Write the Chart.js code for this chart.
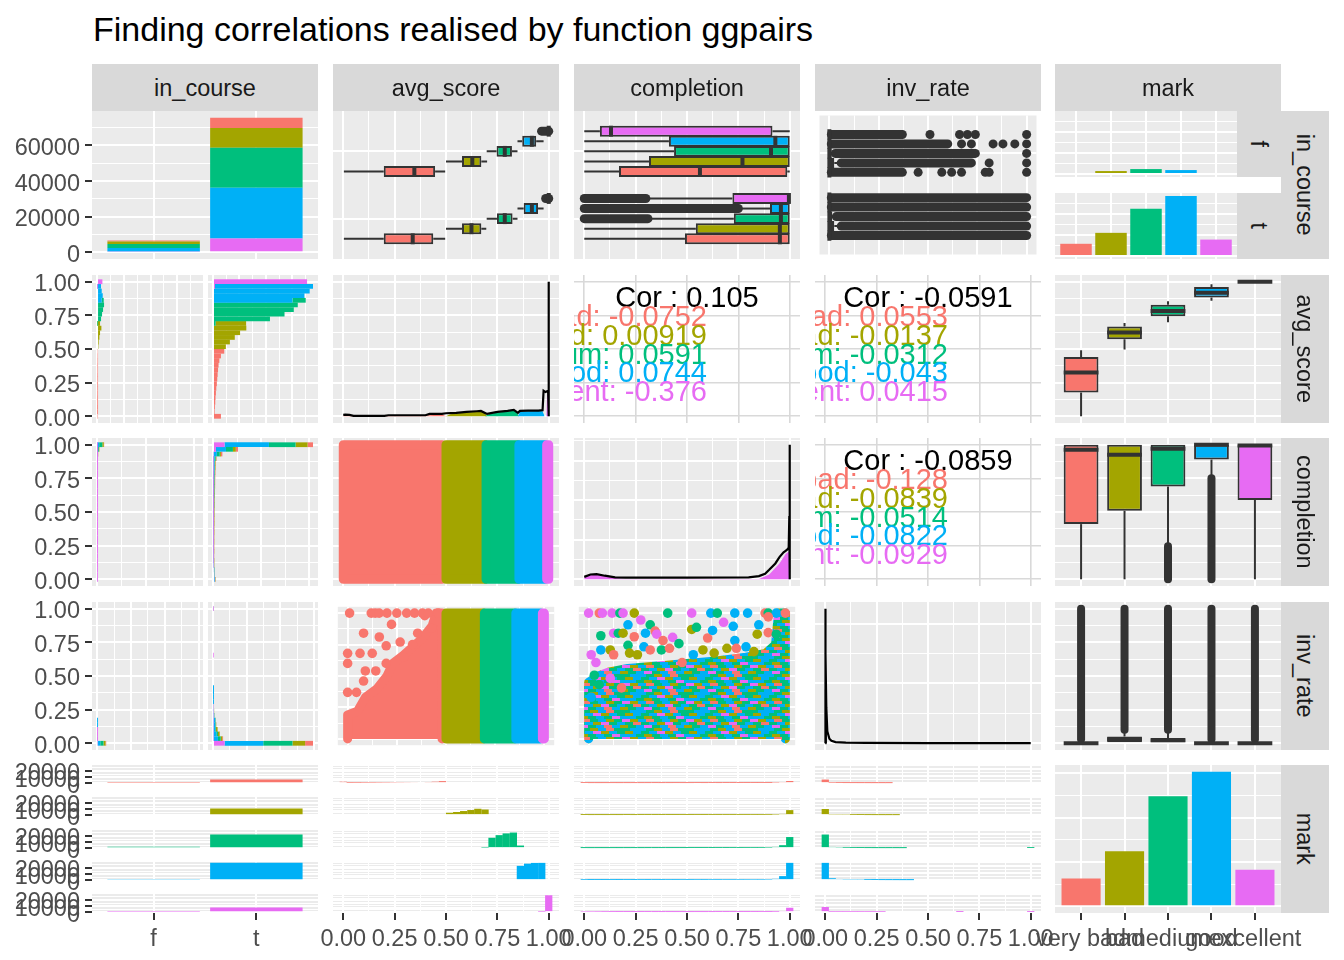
<!DOCTYPE html>
<html lang="en">
<head>
<meta charset="utf-8">
<title>ggpairs</title>
<script src="https://cdn.jsdelivr.net/npm/chart.js@4.4.1/dist/chart.umd.min.js"></script>
<style>
  html,body{margin:0;padding:0;background:#FFFFFF;}
  body{position:relative;width:1344px;height:960px;overflow:hidden;font-family:"Liberation Sans",Arial,Helvetica,sans-serif;}
  canvas{position:absolute;}
  #title{position:absolute;left:93px;top:12px;font-size:34px;line-height:1;color:#000;white-space:nowrap;}
  .strip{position:absolute;box-sizing:border-box;background:#D9D9D9;color:#1A1A1A;font-size:23.5px;line-height:1;display:flex;align-items:center;justify-content:center;white-space:nowrap;overflow:hidden;}
  .strip.h{padding-top:3px;}
  .strip.v{padding-right:2px;}
  .strip.v span{display:inline-block;transform:rotate(90deg);}
  .cor{position:absolute;overflow:hidden;}
  .cor div{position:absolute;white-space:nowrap;font-size:29px;line-height:1;}
</style>
</head>
<body>
<div id="title"></div>
<script>
// ================= DATA =================
const chartTitle = 'Finding correlations realised by function ggpairs';
const marks = ['very bad', 'bad', 'medium', 'good', 'excellent'];
const inCourseLevels = ['f', 't'];
const variables = ['in_course', 'avg_score', 'completion', 'inv_rate', 'mark'];

const countTicks = [0, 20000, 40000, 60000];
const countTickLabels = ['0', '20000', '40000', '60000'];
const facetCountTicks = [0, 10000, 20000];
const facetCountTickLabels = ['0', '10000', '20000'];
const unitTicks = [0, 0.25, 0.5, 0.75, 1];
const unitTickLabels = ['0.00', '0.25', '0.50', '0.75', '1.00'];
const unitMinorTicks = [0.125, 0.375, 0.625, 0.875];

// students by in_course and mark
const studentsF = [470, 1400, 2340, 1870, 470];
const studentsT = [5800, 11000, 22500, 28500, 7800];

// histogram bin centres (30 bins)
const binCentres = [0,0.034,0.069,0.103,0.138,0.172,0.207,0.241,0.276,0.31,0.345,0.379,0.414,0.448,0.483,0.517,0.552,0.586,0.621,0.655,0.69,0.724,0.759,0.793,0.828,0.862,0.897,0.931,0.966,1];

// avg_score histogram counts (in_course t / f)
const avgT_veryBad   = [600,120,140,170,190,220,250,290,320,350,380,420,480,600,850,0,0,0,0,0,0,0,0,0,0,0,0,0,0,0];
const avgT_bad       = [0,0,0,0,0,0,0,0,0,0,0,0,0,0,0,970,1275,1645,2045,2515,2300,0,0,0,0,0,0,0,0,0];
const avgT_medium    = [0,0,0,0,0,0,0,0,0,0,0,0,0,0,0,0,0,0,0,0,200,4300,5400,6100,6400,1000,0,0,0,0];
const avgT_good      = [0,0,0,0,0,0,0,0,0,0,0,0,0,0,0,0,0,0,0,0,0,0,0,0,0,6000,6900,7300,7400,0];
const avgT_excellent = [0,0,0,0,0,0,0,0,0,0,0,0,0,0,0,0,0,0,0,0,0,0,0,0,0,0,0,0,150,7100];
const avgF_veryBad   = [40,10,10,15,15,20,20,20,25,25,30,30,35,40,50,0,0,0,0,0,0,0,0,0,0,0,0,0,0,0];
const avgF_bad       = [0,0,0,0,0,0,0,0,0,0,0,0,0,0,0,100,125,175,225,325,200,0,0,0,0,0,0,0,0,0];
const avgF_medium    = [0,0,0,0,0,0,0,0,0,0,0,0,0,0,0,0,0,0,0,0,25,300,375,450,525,150,0,0,0,0];
const avgF_good      = [0,0,0,0,0,0,0,0,0,0,0,0,0,0,0,0,0,0,0,0,0,0,0,0,0,350,425,350,275,0];
const avgF_excellent = [0,0,0,0,0,0,0,0,0,0,0,0,0,0,0,0,0,0,0,0,0,0,0,0,0,0,0,0,20,400];

// completion histogram counts
const compT_veryBad   = [160,60,50,60,70,60,70,80,70,80,90,80,90,100,90,100,110,100,120,110,120,130,120,140,150,160,150,600,900,2250];
const compT_bad       = [120,80,90,80,100,90,110,100,120,110,130,120,140,130,150,140,160,150,170,160,180,170,190,180,200,210,250,500,1200,5000];
const compT_medium    = [60,30,40,30,50,40,50,60,50,70,60,80,70,90,80,110,100,130,120,150,140,170,160,190,200,220,450,1200,2900,11100];
const compT_good      = [300,150,180,160,200,170,210,190,230,200,240,220,260,240,280,260,300,280,320,300,340,320,360,380,420,400,500,1300,4200,18500];
const compT_excellent = [500,450,380,260,180,150,130,120,110,110,100,100,100,90,90,90,100,90,100,110,110,120,130,140,160,180,150,300,1200,4800];
const compF_veryBad   = [10,0,0,0,10,0,0,10,0,0,10,0,0,10,0,0,10,0,10,0,10,0,10,0,10,10,10,30,60,150];
const compF_bad       = [20,10,10,10,10,10,10,10,20,10,10,20,10,10,20,10,20,10,20,20,20,20,20,30,30,30,40,80,200,600];
const compF_medium    = [20,10,10,10,10,10,10,20,10,10,20,10,20,10,20,20,20,30,20,30,30,30,40,40,50,60,80,200,400,1300];
const compF_good      = [30,20,10,20,10,20,20,10,20,20,20,20,20,20,30,20,30,20,30,30,30,40,40,50,50,60,80,150,300,800];
const compF_excellent = [60,50,40,30,20,10,10,10,10,10,10,10,10,10,10,10,10,10,10,10,10,10,10,10,10,10,10,20,40,80];

// inv_rate histogram counts
const invT_veryBad   = [4700,500,250,120,80,50,30,20,10,10,0,0,0,0,0,0,0,0,0,0,0,0,0,0,0,0,0,0,0,0];
const invT_bad       = [7500,950,950,950,300,150,100,60,40,30,20,0,0,0,0,0,0,0,0,0,0,0,0,0,0,0,0,0,0,0];
const invT_medium    = [17400,1600,950,400,250,150,100,60,40,30,20,10,0,0,0,0,0,0,0,0,0,0,0,0,0,0,0,0,0,150];
const invT_good      = [23000,2550,1600,950,950,950,300,150,100,60,40,20,10,0,0,0,0,0,0,0,0,0,0,0,0,0,0,0,0,0];
const invT_excellent = [6900,400,400,400,400,400,400,400,400,0,0,0,0,0,0,0,0,0,0,200,0,0,0,0,0,0,0,0,0,200];
const invF_veryBad   = [400,20,10,0,0,0,0,0,0,0,0,0,0,0,0,0,0,0,0,0,0,0,0,0,0,0,0,0,0,0];
const invF_bad       = [1200,60,30,20,0,0,0,0,0,0,0,0,0,0,0,0,0,0,0,0,0,0,0,0,0,0,0,0,0,0];
const invF_medium    = [1900,120,60,30,10,0,0,0,0,0,0,0,0,0,0,0,0,0,0,0,0,0,0,0,0,0,0,0,0,0];
const invF_good      = [1500,120,60,30,20,10,0,0,0,0,0,0,0,0,0,0,0,0,0,0,0,0,0,0,0,0,0,0,0,0];
const invF_excellent = [400,30,20,10,0,0,0,0,0,0,0,0,0,0,0,0,0,0,0,0,0,0,0,0,0,0,0,0,0,0];

// densities (diagonal)
const avgDensX = [0,0.01,0.03,0.05,0.2,0.22,0.4,0.42,0.48,0.5,0.55,0.6,0.65,0.67,0.69,0.7,0.75,0.8,0.83,0.85,0.86,0.9,0.95,0.97,0.975,0.985,0.99,0.997,1,1];
const avgDensY = [0.4,0.5,0.4,0.1,0.1,0.3,0.3,0.7,0.7,0.9,1.0,1.3,1.5,1.6,1.0,0.7,1.3,1.6,1.9,1.0,1.6,1.7,1.7,1.8,7.6,7.2,7.4,7.6,40,0];
const avgFillVeryBadX = [0,0.05,0.2,0.4,0.48,0.5];
const avgFillVeryBadY = [0.3,0.3,0.1,0.25,0.5,0];
const avgFillBadX = [0.5,0.52,0.56,0.6,0.64,0.67,0.69,0.7];
const avgFillBadY = [0,0.6,0.9,1.1,1.3,1.5,0.9,0];
const avgFillMediumX = [0.69,0.71,0.75,0.8,0.83,0.845,0.855];
const avgFillMediumY = [0,0.7,1.1,1.4,1.7,1.2,0];
const avgFillGoodX = [0.85,0.86,0.9,0.95,0.97,0.98];
const avgFillGoodY = [0,1.3,1.5,1.6,1.5,0];
const avgFillExcX = [0.988,0.992,0.996,1,1];
const avgFillExcY = [0,6.4,6.6,6.6,0];

const compDensX = [0,0.03,0.06,0.1,0.15,0.2,0.5,0.8,0.85,0.88,0.9,0.93,0.95,0.97,0.98,0.99,0.995,0.998,1,1];
const compDensY = [0.3,0.6,0.65,0.45,0.25,0.2,0.2,0.25,0.4,0.7,1.2,2.0,2.8,3.4,3.6,3.8,4.0,8.0,17,0];
const compFillExcX = [0,0.03,0.06,0.1,0.15,0.2,0.85,0.9,0.95,0.98,1,1];
const compFillExcY = [0.3,0.6,0.65,0.45,0.15,0.05,0.05,0.6,2.0,3.2,3.6,0];
const compFillGoodX = [0.994,0.996,0.999,0.999];
const compFillGoodY = [0,7.7,7.7,0];

const invDensX = [0,0,0.002,0.005,0.01,0.02,0.03,0.05,0.1,0.2,0.5,1];
const invDensY = [0,45,30,12,4,1.5,0.8,0.4,0.2,0.1,0.05,0.05];
const invDens2X = [0.003,0.003];
const invDens2Y = [0,18];

// correlations
const corAvgCompletion = 0.105;
const corAvgCompletionByMark = [-0.0752, 0.00919, 0.0591, 0.0744, -0.376];
const corAvgInv = -0.0591;
const corAvgInvByMark = [0.0553, -0.0137, -0.0312, -0.043, 0.0415];
const corCompletionInv = -0.0859;
const corCompletionInvByMark = [-0.128, -0.0839, -0.0514, -0.0822, -0.0929];

// boxplot summaries: [lower whisker, q1, median, q3, upper whisker] per mark
const avgBoxF = [[0.003,0.197,0.346,0.447,0.496],[0.5,0.578,0.628,0.672,0.7],[0.698,0.746,0.786,0.821,0.848],[0.848,0.871,0.918,0.939,0.975],[1,1,1,1,1]];
const avgBoxT = [[0.003,0.197,0.338,0.438,0.496],[0.5,0.578,0.624,0.672,0.696],[0.698,0.748,0.786,0.824,0.848],[0.848,0.878,0.918,0.948,0.975],[1,1,1,1,1]];
const avgOutF = [[4,0.965,1]];          // [mark, from, to] dense outlier runs
const avgOutT = [[4,0.985,1]];
const compBoxF = [[0,0.169,0.563,0.988,1],[0,0.315,0.77,1,1],[0,0.437,0.909,1,1],[0,0.412,0.93,1,1],[0,0.076,0.13,0.916,1]];
const compBoxT = [[0,0.49,0.952,1,1],[0,0.543,0.952,1,1],[0.32,0.728,0.957,1,1],[0.758,0.904,0.957,1,1],[0.307,0.721,0.996,1,1]];
const compOutT = [[2,0,0.31],[3,0,0.75],[4,0,0.3]];
const invBoxF = [[0,0,0,0,0.01],[0,0,0,0.025,0.06],[0,0,0,0.012,0.03],[0,0,0,0,0.01],[0,0,0,0,0.01]];
const invBoxT = [[0,0,0,0,0.01],[0,0,0,0.025,0.06],[0,0,0,0.015,0.035],[0,0,0,0,0.01],[0,0,0,0,0.01]];
const invOutF = [[0,0.01,0.37],[1,0.06,0.72],[2,0.03,0.74],[3,0.01,0.6],[4,0.01,0.37]];
const invOutDotsF = [[0,0.45],[0,0.57],[0,0.62],[0,0.67],[0,0.79],[0,0.81],[0,1],[1,0.81],[1,1],[2,1],[3,0.67],[3,0.72],[3,0.83],[3,0.88],[3,0.94],[3,1],[4,0.51],[4,0.66],[4,0.7],[4,0.74],[4,1]];
const invOutT = [[0,0.01,1],[1,0.06,1],[2,0.035,1],[3,0.01,1],[4,0.01,1]];
const avgByMark = [[0,0.176,0.325,0.44,0.49],[0.496,0.572,0.622,0.667,0.693],[0.698,0.743,0.783,0.829,0.854],[0.859,0.882,0.919,0.96,0.982],[0.995,0.997,1,1,1]];
const compByMark = [[0,0.41,0.963,1,1],[0,0.51,0.925,1,1],[0.25,0.69,0.97,1,1],[0.76,0.89,1,1,1],[0,0.59,0.995,1,1]];
const compByMarkOut = [[2,0,0.245],[3,0,0.75]];
const invByMark = [[0,0,0,0,0.01],[0,0,0.03,0.05,0.085],[0,0,0.022,0.04,0.08],[0,0,0,0,0.01],[0,0,0,0,0.01]];
const invByMarkOut = [[0,0.03,1],[1,0.1,1],[2,0.1,1],[3,0.03,1],[4,0.03,1]];

// scatter: avg_score ranges covered by each mark
const bandFrom = [0, 0.5, 0.695, 0.855, 0.99];
const bandTo = [0.48, 0.69, 0.85, 0.98, 1.0];
// avg_score vs inv_rate, very bad: dense region outline and sparse points
const redDenseAvg = [0,0,0.05,0.09,0.15,0.2,0.23,0.28,0.33,0.38,0.43,0.45,0.48,0.48];
const redDenseInv = [0,0.19,0.22,0.33,0.4,0.5,0.6,0.66,0.73,0.8,0.9,1,1,0];
const redSparseAvg = [0.01,0.081,0.161,0.223,0.356,0.427,0,0,0.063,0.125,0.196,0.267,0.33,0.09,0.143,0,0.045,0.081,0.196,0.285,0.392,0.12,0.14,0.16,0.2,0.25,0.3,0.34,0.38,0.41,0.46];
const redSparseInv = [1,0.84,0.81,0.91,0.84,0.88,0.68,0.6,0.68,0.68,0.74,0.77,0.75,0.54,0.54,0.37,0.37,0.46,0.6,0.65,0.98,1,1,1,1,1,1,1,1,1,1];
// completion vs inv_rate: dense region outline and sparse points
const dense43Completion = [0,0,0.05,0.1,0.2,0.35,0.5,0.65,0.8,0.9,0.95,0.965,1,1];
const dense43Inv = [0,0.45,0.5,0.53,0.56,0.58,0.6,0.62,0.65,0.68,0.75,1,1,0];
const p43Completion = [0,0.054,0.07,0.119,0.159,0.175,0.232,0.402,0.524,0.621,0.654,0.743,0.808,0.897,0.913,0.954,1,
  0.265,0.2,0.313,0.062,0.127,0.151,0.175,0.232,0.289,0.338,0.346,0.378,0.427,0.459,0.524,0.548,0.605,0.63,0.686,0.735,0.743,0.703,0.751,0.8,0.84,0.857,0.865,0.913,0.954,0.913,
  0.013,0.037,0.062,0.11,0.127,0.2,0.208,0.248,0.281,0.313,0.37,0.411,0.475,0.532,0.581,0.638,0.029,0.054,0.013,0.167,0.11];
const p43Inv = [1,1,1,1,1,1,1,1,1,1,1,1,1,1,1,1,1,
  0.945,0.907,0.907,0.82,0.84,0.84,0.84,0.812,0.84,0.857,0.832,0.782,0.807,0.757,0.87,0.887,0.802,0.862,0.927,0.895,0.782,0.72,0.72,0.732,0.694,0.832,0.907,0.845,0.832,0.97,
  0.669,0.607,0.707,0.707,0.669,0.744,0.682,0.669,0.732,0.707,0.707,0.72,0.607,0.669,0.707,0.682,0.506,0.431,0.331,0.406,0.481];
const p43Mark = [4,0,4,4,2,4,1,2,4,3,2,3,3,0,2,3,0,
  4,3,2,2,4,2,1,0,3,0,4,0,4,2,1,2,0,3,4,3,3,1,0,3,1,1,3,0,2,0,
  4,4,3,1,0,2,1,1,3,0,2,0,0,3,1,1,2,2,3,0,4];

// ================= STYLE / HELPERS =================
const FONT = '"Liberation Sans", Arial, Helvetica, sans-serif';
const COLORS = ['#F8766D', '#A3A500', '#00BF7D', '#00B0F6', '#E76BF3'];
const INK = '#333333';
const colL = [92, 333, 574, 815, 1055];
const rowT = [111, 275, 438, 602, 765];
const PW = 226, PH = 148;
const facetH = 19;
const facetTops = [765, 797, 830, 862, 894];
const GRID = {color: '#FFFFFF', majorW: 2, minorW: 1, minor: true};
const CORGRID = {color: '#D9D9D9', majorW: 1.6, minorW: 0, minor: false};
// colour-index tile for the over-plotted region (style only)
const tileCells = [3,2,1,3,0,2,2,3, 2,3,4,1,3,2,1,3, 1,2,3,2,4,3,3,2, 3,0,2,3,1,2,4,1, 2,3,1,4,2,3,2,0, 4,2,3,0,3,1,2,3];

Chart.defaults.font.family = FONT;
Chart.register({
  id: 'panelBg',
  beforeDraw(chart, args, opts) {
    const a = chart.chartArea, c = chart.ctx;
    c.save(); c.fillStyle = opts.color || '#EBEBEB';
    c.fillRect(a.left, a.top, a.right - a.left, a.bottom - a.top);
    c.restore();
  }
});

function niceStep(maxv) {
  const p = Math.pow(10, Math.floor(Math.log10(maxv)));
  for (const f of [0.1, 0.2, 0.25, 0.5, 1, 2, 2.5, 5, 10]) { if (maxv / (f * p) <= 4) return f * p; }
  return 10 * p;
}
function countSpec(maxv, ticks, labels) {
  const min = -0.05 * maxv, max = 1.05 * maxv;
  let majors, st;
  if (ticks) { majors = ticks.slice(); st = ticks[1] - ticks[0]; }
  else { st = niceStep(maxv); majors = []; for (let v = 0; v <= max + 1e-9; v += st) majors.push(+v.toFixed(6)); }
  const minors = [];
  majors.forEach(v => { const m = v + st / 2; if (m <= max) minors.push(m); });
  return {min, max, majors, minors, labels};
}
function unitSpec() { return {min: -0.05, max: 1.05, majors: unitTicks, minors: unitMinorTicks, labels: unitTickLabels}; }
function discSpec(n, labels) { const t = []; for (let i = 1; i <= n; i++) t.push(i); return {min: 0.4, max: n + 0.6, majors: t, minors: [], labels}; }

function scaleOpts(s, show, size, g, stacked, vertical) {
  const list = s.majors.map((v, i) => ({value: v, major: true, lbl: s.labels ? s.labels[i] : ''}))
    .concat((g.minor ? s.minors : []).map(v => ({value: v, major: false, lbl: ''})))
    .sort((a, b) => a.value - b.value);
  return {
    type: 'linear', min: s.min, max: s.max, bounds: 'data', offset: false, beginAtZero: false, stacked: stacked,
    afterBuildTicks: sc => { sc.ticks = list.map(t => Object.assign({}, t)); },
    afterFit: sc => {
      if (sc.isHorizontal()) sc.height = size; else sc.width = size;
      sc.paddingTop = 0; sc.paddingBottom = 0; sc.paddingLeft = 0; sc.paddingRight = 0;
    },
    ticks: {
      display: show, autoSkip: false, maxRotation: 0, minRotation: 0, padding: 5, color: '#4D4D4D',
      labelOffset: vertical ? 3 : 0,
      font: {family: FONT, size: 23.5},
      callback: (v, i, t) => (t[i] && t[i].major) ? t[i].lbl : ''
    },
    grid: {
      offset: false, drawOnChartArea: true, drawTicks: show, tickLength: 7, tickWidth: 2,
      tickColor: c => (c.tick && c.tick.major) ? INK : 'rgba(0,0,0,0)',
      color: g.color,
      lineWidth: c => (c.tick && !c.tick.major) ? g.minorW : g.majorW
    },
    border: {display: false}
  };
}

function makePanel(rect, o) {
  const left = !!o.left, bottom = !!o.bottom;
  const axL = left ? rect.l : 0;
  const axB = bottom ? 960 - (rect.t + rect.h) : 0;
  const exL = (bottom && !left) ? 40 : 0;
  const exR = bottom ? 40 : 0;
  const exT = left ? 14 : 0;
  const exB = (left && !bottom) ? 14 : 0;
  const W = Math.round(rect.w + axL + exL + exR), H = Math.round(rect.h + exT + axB + exB);
  const cv = document.createElement('canvas');
  cv.width = W; cv.height = H;
  cv.style.left = (rect.l - axL - exL) + 'px';
  cv.style.top = (rect.t - exT) + 'px';
  cv.style.width = W + 'px'; cv.style.height = H + 'px';
  document.body.appendChild(cv);
  const g = o.grid || GRID;
  return new Chart(cv, {
    type: 'scatter',
    data: {datasets: o.datasets || []},
    options: {
      responsive: false, maintainAspectRatio: false, animation: false, events: [],
      layout: {padding: {left: exL, right: exR, top: exT, bottom: exB}},
      plugins: {legend: {display: false}, tooltip: {enabled: false}, title: {display: false}, panelBg: {color: o.bg || '#EBEBEB'}},
      scales: {x: scaleOpts(o.x, bottom, axB, g, !!o.stacked, false), y: scaleOpts(o.y, left, axL, g, !!o.stacked, true)}
    }
  });
}
function rectOf(r, c) { return {l: colL[c], t: rowT[r], w: PW, h: PH}; }
function pts(xs, ys) { return xs.map((x, i) => ({x: x, y: ys[i]})); }
function lineDS(data, color, width, extra) {
  return Object.assign({type: 'line', data: data, borderColor: color, borderWidth: width, pointRadius: 0, fill: false, tension: 0, spanGaps: false, clip: 0, borderCapStyle: 'butt'}, extra || {});
}
function areaDS(data, color) { return {type: 'line', data: data, borderWidth: 0, borderColor: color, backgroundColor: color, pointRadius: 0, fill: {value: 0}, tension: 0, clip: 0}; }
function polyDS(data, color, edge) { return {type: 'line', data: data, borderColor: color, backgroundColor: color, borderWidth: edge, borderJoinStyle: 'round', borderCapStyle: 'round', pointRadius: 0, fill: 'shape', tension: 0, clip: 0}; }
function dotsDS(data, color, r) { return {type: 'scatter', data: data, backgroundColor: color, borderWidth: 0, pointRadius: r, clip: 0}; }
function barDS(data, color, extra) { return Object.assign({type: 'bar', data: data, backgroundColor: color, borderWidth: 0, barPercentage: 0.9, categoryPercentage: 1, grouped: false, clip: 0}, extra || {}); }
function seq(list) { list.forEach((d, i) => { d.order = list.length - i; }); return list; }
function bandPoly(lo, hi, y0, y1) { return [{x: lo, y: y0}, {x: lo, y: y1}, {x: hi, y: y1}, {x: hi, y: y0}, {x: lo, y: y0}]; }

const DODGE = 0.15;
function hBoxes(stats, level) {
  const out = [];
  stats.forEach((s, m) => {
    const y = level - 2 * DODGE + m * DODGE;
    out.push(lineDS([{x: s[0], y}, {x: s[1], y}, {x: null, y: null}, {x: s[3], y}, {x: s[4], y}], INK, 2));
    out.push(barDS([{x: [s[1], s[3]], y}], COLORS[m], {indexAxis: 'y', borderColor: INK, borderWidth: 2, borderSkipped: false, barPercentage: 1.08}));
    out.push(lineDS([{x: s[2], y: y - DODGE * 0.54}, {x: s[2], y: y + DODGE * 0.54}], INK, 4));
  });
  return out;
}
function hOutliers(bands, dots, level) {
  const out = bands.map(b => { const y = level - 2 * DODGE + b[0] * DODGE; return lineDS([{x: b[1], y}, {x: b[2], y}], INK, 9, {borderCapStyle: 'round'}); });
  if (dots.length) out.push(dotsDS(dots.map(d => ({x: d[1], y: level - 2 * DODGE + d[0] * DODGE})), INK, 4.5));
  return out;
}
function vBoxes(stats) {
  const out = [];
  stats.forEach((s, m) => {
    const x = m + 1;
    out.push(lineDS([{x, y: s[0]}, {x, y: s[1]}, {x: null, y: null}, {x, y: s[3]}, {x, y: s[4]}], INK, 2));
    out.push(barDS([{x, y: [s[1], s[3]]}], COLORS[m], {borderColor: INK, borderWidth: 2, borderSkipped: false, barPercentage: 0.8}));
    out.push(lineDS([{x: x - 0.4, y: s[2]}, {x: x + 0.4, y: s[2]}], INK, 4));
  });
  return out;
}
function vOutliers(bands) { return bands.map(b => lineDS([{x: b[0] + 1, y: b[1]}, {x: b[0] + 1, y: b[2]}], INK, 8, {borderCapStyle: 'round'})); }

const sumOver = arrs => arrs[0].map((_, k) => arrs.reduce((a, arr) => a + arr[k], 0));
function hHist(perMark) {
  return [4, 3, 2, 1, 0].map(m => barDS(binCentres.map((b, k) => ({x: perMark[m][k], y: b})), COLORS[m], {indexAxis: 'y', barPercentage: 1.04, categoryPercentage: 1}));
}
function facetHistRow(r, T, F) {
  const maxv = Math.max(...sumOver(T), ...sumOver(F));
  const xs = countSpec(maxv);
  makePanel({l: 92, t: rowT[r], w: 111, h: PH}, {x: xs, y: unitSpec(), left: true, stacked: true, datasets: hHist(F)});
  makePanel({l: 208, t: rowT[r], w: 110, h: PH}, {x: xs, y: unitSpec(), stacked: true, datasets: hHist(T)});
}
function facetHistColumn(c, T, F) {
  const tot = T.map((arr, m) => arr.map((v, k) => v + F[m][k]));
  const ys = countSpec(Math.max(...tot.flat()));
  facetTops.forEach((top, m) => makePanel({l: colL[c], t: top, w: PW, h: facetH}, {
    x: unitSpec(), y: ys, bottom: m === 4,
    datasets: [barDS(binCentres.map((b, k) => ({x: b, y: tot[m][k]})), COLORS[m], {barPercentage: 1.04, categoryPercentage: 1})]
  }));
}
function corPanel(r, c, overall, byMark) {
  const rc = rectOf(r, c);
  makePanel(rc, {x: unitSpec(), y: unitSpec(), bg: '#FFFFFF', grid: CORGRID});
  const box = document.createElement('div');
  box.className = 'cor';
  Object.assign(box.style, {left: rc.l + 'px', top: rc.t + 'px', width: rc.w + 'px', height: rc.h + 'px'});
  const main = document.createElement('div');
  main.textContent = 'Cor : ' + overall;
  Object.assign(main.style, {left: (PW / 2) + 'px', top: '22px', transform: 'translate(-50%,-50%)', color: '#000000'});
  box.appendChild(main);
  byMark.forEach((v, m) => {
    const d = document.createElement('div');
    d.textContent = marks[m] + ': ' + v;
    Object.assign(d.style, {left: (PW / 2 + 20) + 'px', top: (41 + m * 18.8) + 'px', transform: 'translate(-100%,-50%)', color: COLORS[m]});
    box.appendChild(d);
  });
  document.body.appendChild(box);
}
function strip(l, t, w, h, text, vertical) {
  const d = document.createElement('div');
  d.className = 'strip ' + (vertical ? 'v' : 'h');
  Object.assign(d.style, {left: l + 'px', top: t + 'px', width: w + 'px', height: h + 'px'});
  const s = document.createElement('span'); s.textContent = text; d.appendChild(s);
  document.body.appendChild(d);
}
function mixedPattern() {
  const c = document.createElement('canvas'); c.width = 64; c.height = 18;
  const g = c.getContext('2d');
  for (let r = 0; r < 6; r++) {
    g.fillStyle = COLORS[tileCells[r * 8 + 7]];
    g.fillRect(0, r * 3, 64, 3);
    for (let q = 0; q < 8; q++) {
      g.fillStyle = COLORS[tileCells[r * 8 + q]];
      g.fillRect(q * 8 + (r % 3) * 3, r * 3, 8, 3);
    }
  }
  return g.createPattern(c, 'repeat');
}

// ================= BUILD =================
document.getElementById('title').textContent = chartTitle;

const avgT = [avgT_veryBad, avgT_bad, avgT_medium, avgT_good, avgT_excellent];
const avgF = [avgF_veryBad, avgF_bad, avgF_medium, avgF_good, avgF_excellent];
const compT = [compT_veryBad, compT_bad, compT_medium, compT_good, compT_excellent];
const compF = [compF_veryBad, compF_bad, compF_medium, compF_good, compF_excellent];
const invT = [invT_veryBad, invT_bad, invT_medium, invT_good, invT_excellent];
const invF = [invF_veryBad, invF_bad, invF_medium, invF_good, invF_excellent];

// ---- row 1 : in_course ----
makePanel(rectOf(0, 0), {
  x: discSpec(2), y: countSpec(studentsT.reduce((a, b) => a + b, 0), countTicks, countTickLabels), left: true, stacked: true,
  datasets: [4, 3, 2, 1, 0].map(m => barDS([{x: 1, y: studentsF[m]}, {x: 2, y: studentsT[m]}], COLORS[m]))
});
makePanel(rectOf(0, 1), {x: unitSpec(), y: discSpec(2), datasets: seq([
  ...hOutliers(avgOutT, [], 1), ...hBoxes(avgBoxT, 1), ...hOutliers(avgOutF, [], 2), ...hBoxes(avgBoxF, 2)])});
makePanel(rectOf(0, 2), {x: unitSpec(), y: discSpec(2), datasets: seq([
  ...hOutliers(compOutT, [], 1), ...hBoxes(compBoxT, 1), ...hBoxes(compBoxF, 2)])});
makePanel(rectOf(0, 3), {x: unitSpec(), y: discSpec(2), datasets: seq([
  ...hOutliers(invOutT, [], 1), ...hBoxes(invBoxT, 1), ...hOutliers(invOutF, invOutDotsF, 2), ...hBoxes(invBoxF, 2)])});
const facetCountHidden = countSpec(Math.max(...studentsT));
makePanel({l: 1055, t: 111, w: 182, h: 66}, {x: discSpec(5), y: facetCountHidden,
  datasets: [barDS(studentsF.map((v, m) => ({x: m + 1, y: v})), COLORS)]});
makePanel({l: 1055, t: 193, w: 182, h: 66}, {x: discSpec(5), y: facetCountHidden,
  datasets: [barDS(studentsT.map((v, m) => ({x: m + 1, y: v})), COLORS)]});

// ---- row 2 : avg_score ----
facetHistRow(1, avgT, avgF);
makePanel(rectOf(1, 1), {x: unitSpec(), y: countSpec(Math.max(...avgDensY)), datasets: seq([
  areaDS(pts(avgFillVeryBadX, avgFillVeryBadY), COLORS[0]),
  areaDS(pts(avgFillBadX, avgFillBadY), COLORS[1]),
  areaDS(pts(avgFillMediumX, avgFillMediumY), COLORS[2]),
  areaDS(pts(avgFillGoodX, avgFillGoodY), COLORS[3]),
  areaDS(pts(avgFillExcX, avgFillExcY), COLORS[4]),
  lineDS(pts(avgDensX, avgDensY), '#000000', 2.2)])});
corPanel(1, 2, corAvgCompletion, corAvgCompletionByMark);
corPanel(1, 3, corAvgInv, corAvgInvByMark);
makePanel(rectOf(1, 4), {x: discSpec(5), y: unitSpec(), datasets: seq(vBoxes(avgByMark))});

// ---- row 3 : completion ----
facetHistRow(2, compT, compF);
makePanel(rectOf(2, 1), {x: unitSpec(), y: unitSpec(), datasets: seq(
  marks.map((_, m) => polyDS(bandPoly(bandFrom[m], bandTo[m], 0, 1), COLORS[m], 9)))});
makePanel(rectOf(2, 2), {x: unitSpec(), y: countSpec(Math.max(...compDensY)), datasets: seq([
  areaDS(pts(compFillExcX, compFillExcY), COLORS[4]),
  areaDS(pts(compFillGoodX, compFillGoodY), COLORS[3]),
  lineDS(pts(compDensX, compDensY), '#000000', 2.2)])});
corPanel(2, 3, corCompletionInv, corCompletionInvByMark);
makePanel(rectOf(2, 4), {x: discSpec(5), y: unitSpec(), datasets: seq([...vOutliers(compByMarkOut), ...vBoxes(compByMark)])});

// ---- row 4 : inv_rate ----
facetHistRow(3, invT, invF);
const ds42 = [polyDS(pts(redDenseAvg, redDenseInv), COLORS[0], 9), dotsDS(pts(redSparseAvg, redSparseInv), COLORS[0], 4.8)];
for (let m = 1; m < 5; m++) ds42.push(polyDS(bandPoly(bandFrom[m], bandTo[m], 0, 1), COLORS[m], 9));
makePanel(rectOf(3, 1), {x: unitSpec(), y: unitSpec(), datasets: seq(ds42)});
const pattern = mixedPattern();
makePanel(rectOf(3, 2), {x: unitSpec(), y: unitSpec(), datasets: seq([
  polyDS(pts(dense43Completion, dense43Inv), pattern, 9),
  dotsDS(pts(p43Completion, p43Inv), p43Mark.map(m => COLORS[m]), 4.8)])});
makePanel(rectOf(3, 3), {x: unitSpec(), y: countSpec(Math.max(...invDensY)), datasets: seq([
  lineDS(pts(invDens2X, invDens2Y), '#000000', 2),
  lineDS(pts(invDensX, invDensY), '#000000', 2.2)])});
makePanel(rectOf(3, 4), {x: discSpec(5), y: unitSpec(), datasets: seq([...vOutliers(invByMarkOut), ...vBoxes(invByMark)])});

// ---- row 5 : mark ----
const facetCount = countSpec(Math.max(...studentsT), facetCountTicks, facetCountTickLabels);
facetTops.forEach((top, m) => makePanel({l: colL[0], t: top, w: PW, h: facetH}, {
  x: discSpec(2, inCourseLevels), y: facetCount, left: true, bottom: m === 4,
  datasets: [barDS([{x: 1, y: studentsF[m]}, {x: 2, y: studentsT[m]}], COLORS[m])]
}));
facetHistColumn(1, avgT, avgF);
facetHistColumn(2, compT, compF);
facetHistColumn(3, invT, invF);
const markTotals = studentsF.map((v, m) => v + studentsT[m]);
makePanel(rectOf(4, 4), {x: discSpec(5, marks), y: countSpec(Math.max(...markTotals)), bottom: true,
  datasets: [barDS(markTotals.map((v, m) => ({x: m + 1, y: v})), COLORS)]});

// ---- strips ----
variables.forEach((v, c) => strip(colL[c], 64, PW, 47, v, false));
variables.forEach((v, r) => strip(1281, rowT[r], 48, PH, v, true));
strip(1237, 111, 44, 66, inCourseLevels[0], true);
strip(1237, 193, 44, 66, inCourseLevels[1], true);
</script>
</body>
</html>
